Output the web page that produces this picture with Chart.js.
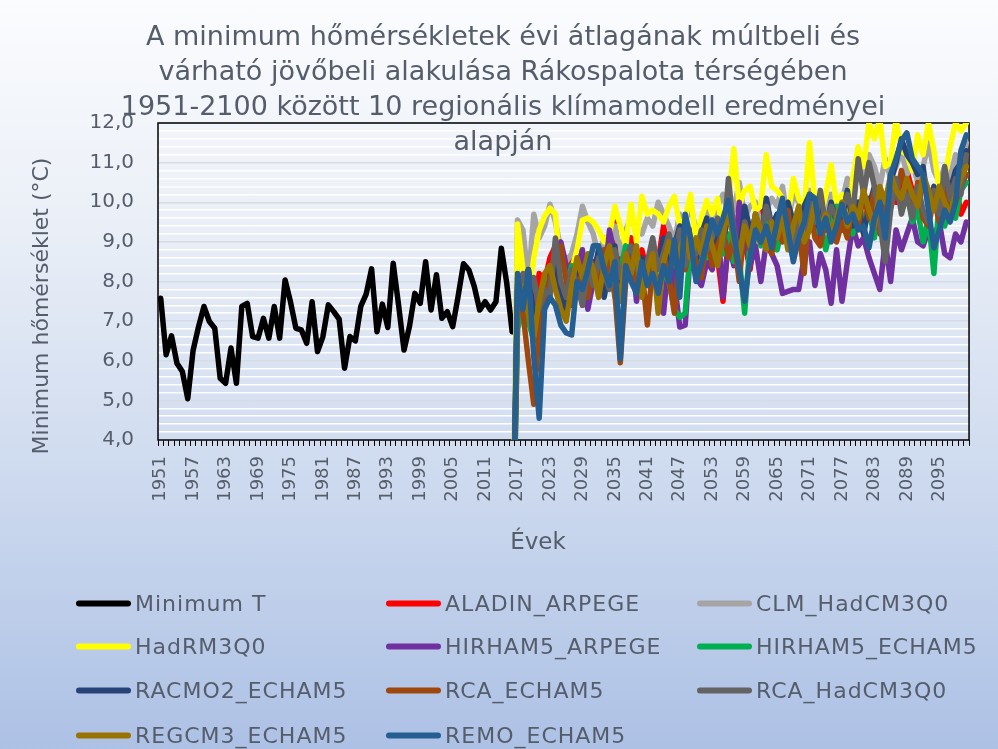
<!DOCTYPE html>
<html lang="hu">
<head>
<meta charset="utf-8">
<title>Minimum hőmérsékletek – Rákospalota</title>
<script src="https://cdn.jsdelivr.net/npm/chart.js@4.4.1/dist/chart.umd.min.js"></script>
<style>
  html, body { margin: 0; padding: 0; }
  body { width: 998px; height: 749px; overflow: hidden; }
  #wrap {
    position: relative; width: 998px; height: 749px;
    background: linear-gradient(180deg, #fbfcfe 0%, #eaeff7 30%, #cfdbef 62%, #adc1e5 100%);
  }
  #chart { position: absolute; left: 0; top: 0; }
  #legend {
    position: absolute; left: 0; top: 0; width: 998px; height: 749px; pointer-events: none;
    font-family: "DejaVu Sans", sans-serif; font-size: 22px; letter-spacing: 1px; color: #555d6b;
  }
  .item { position: absolute; display: flex; align-items: center; white-space: nowrap; transform: translateY(-50%); }
  .swatch { width: 55px; height: 6px; border-radius: 3px; margin-right: 4px; }
</style>
</head>
<body>
<div id="wrap">
  <canvas id="chart" width="998" height="749"></canvas>
  <div id="legend"></div>
</div>
<script>
// years on the category axis
const firstYear = 1951;
const lastYear = 2100;
const years = [];
for (let y = firstYear; y <= lastYear; y++) years.push(String(y));

// observed yearly mean of minimum temperature, 1951-2016
const minimumT = [
  7.58, 6.15, 6.63, 5.94, 5.73, 5.04, 6.27, 6.86, 7.37, 6.99,
  6.82, 5.56, 5.43, 6.32, 5.43, 7.37, 7.45, 6.61, 6.57, 7.07,
  6.57, 7.37, 6.57, 8.04, 7.49, 6.82, 6.78, 6.44, 7.49, 6.23,
  6.61, 7.41, 7.24, 7.05, 5.81, 6.61, 6.50, 7.37, 7.68, 8.32,
  6.73, 7.43, 6.84, 8.46, 7.40, 6.27, 6.86, 7.70, 7.45, 8.50,
  7.28, 8.17, 7.07, 7.24, 6.86, 7.62, 8.45, 8.29, 7.87, 7.28,
  7.49, 7.28, 7.49, 8.84, 7.96, 6.73
];

// model runs, 2016-2100 (the 2016 cell is empty in the sheet and plots as 0)
const aladinArpege = [0,
  7.0, 8.0, 7.6, 7.3, 8.2, 8.0, 8.6, 8.9, 8.3, 8.6, 8.4, 9.0,
  7.4, 8.3, 8.5, 7.8, 8.9, 8.4, 9.5, 8.2, 8.7, 9.1, 8.3, 8.8,
  8.2, 8.9, 8.5, 9.4, 8.7, 8.3, 9.0, 8.6, 9.3, 8.8, 9.4, 9.0,
  9.2, 8.6, 7.5, 9.1, 8.5, 9.7, 9.0, 8.3, 9.3, 9.8, 9.1, 9.5,
  9.0, 9.6, 9.2, 8.8, 9.5, 9.9, 9.3, 9.7, 9.1, 9.8, 9.4, 9.6,
  9.3, 10.0, 9.5, 9.9, 9.2, 10.1, 9.6, 10.2, 9.7, 10.5, 10.0, 10.4,
  10.8, 10.3, 9.8, 10.6, 10.2, 9.9, 10.4, 10.7, 10.1, 10.5, 9.7, 10.0
];
const clmHadCM3Q0 = [0,
  9.55, 9.3, 8.0, 9.7, 9.1, 9.4, 9.95, 9.5, 8.8, 8.5, 8.7, 9.2,
  9.9, 9.5, 9.2, 8.6, 9.1, 8.8, 9.4, 8.7, 9.3, 9.6, 9.3, 9.2,
  9.6, 9.4, 10.0, 9.7, 9.4, 9.0, 9.7, 9.5, 9.9, 9.3, 9.5, 9.8,
  9.5, 9.9, 10.2, 9.7, 9.8, 10.5, 9.6, 9.9, 10.0, 9.4, 9.8, 10.1,
  9.9, 10.4, 9.5, 10.2, 10.0, 9.7, 10.3, 9.8, 10.1, 9.6, 10.2, 9.7,
  10.0, 10.6, 10.3, 11.0, 10.7, 11.2, 10.9, 10.4, 11.1, 10.6, 10.9, 11.3,
  10.7, 11.0, 10.5, 10.9, 11.5, 10.8, 10.5, 10.9, 10.6, 11.2, 10.9, 11.5
];
const hadRM3Q0 = [0,
  9.45, 8.3, 7.5, 8.6, 9.3, 9.65, 9.85, 9.7, 8.2, 7.7, 8.3, 8.8,
  9.55, 9.6, 9.5, 9.3, 9.0, 9.2, 9.9, 9.4, 8.9, 9.95, 9.0, 10.15,
  9.7, 9.8, 9.7, 9.5, 9.9, 10.15, 9.4, 9.6, 10.2, 9.0, 9.6, 10.05,
  9.7, 10.1, 9.2, 10.0, 11.35, 9.9, 10.3, 10.4, 9.8, 9.9, 11.2, 10.4,
  10.3, 10.1, 9.6, 10.6, 10.1, 9.8, 11.5, 10.0, 9.6, 10.2, 10.95, 9.9,
  10.2, 9.1, 10.6, 11.4, 10.9, 12.0, 11.6, 12.1, 10.9, 11.0, 12.1, 11.3,
  11.2, 10.8, 11.7, 11.2, 12.0, 11.3, 10.3, 10.6, 11.4, 12.0, 11.8, 12.0
];
const hirham5Arpege = [0,
  7.5, 8.0, 8.3, 7.1, 6.6, 7.8, 8.4, 8.1, 9.0, 8.4, 7.9, 8.2,
  8.8, 7.3, 8.0, 8.6, 7.9, 9.3, 8.6, 7.8, 8.3, 8.9, 7.5, 8.4,
  8.0, 8.5, 7.9, 7.2, 8.6, 8.0, 6.85, 6.9, 8.8, 8.1, 7.9, 8.5,
  8.3, 9.4, 7.6, 9.0, 8.4, 10.0, 9.2, 8.4, 8.9, 8.0, 9.0, 8.7,
  8.4, 7.7, 7.75, 7.8, 7.8, 8.6, 9.0, 7.9, 8.7, 8.3, 7.45, 8.8,
  7.5, 8.5, 9.4, 8.9, 9.1, 8.6, 8.2, 7.8, 9.0, 8.0, 9.3, 8.8,
  9.2, 9.6, 9.0, 8.9, 9.3, 9.1, 9.5, 8.7, 8.6, 9.2, 9.0, 9.5
];
const hirham5Echam5 = [0,
  6.8, 7.4, 7.0, 6.5, 7.6, 8.1, 7.7, 8.3, 7.5, 7.9, 8.4, 7.6,
  8.2, 8.6, 7.9, 8.4, 8.1, 8.8, 7.6, 8.3, 8.9, 8.0, 8.5, 7.7,
  8.4, 7.9, 8.6, 8.2, 8.0, 7.3, 7.1, 7.2, 8.9, 8.4, 9.2, 8.6,
  8.9, 9.3, 8.7, 9.2, 8.5, 8.6, 7.2, 9.0, 9.4, 8.9, 9.6, 9.1,
  8.8, 9.4, 9.0, 8.6, 9.3, 8.9, 9.7, 9.2, 9.5, 8.8, 9.4, 9.9,
  9.3, 9.7, 9.2, 10.0, 9.5, 9.8, 9.1, 10.2, 9.6, 9.9, 10.4, 10.0,
  10.3, 9.5, 9.8, 9.0, 9.6, 8.2, 10.1, 9.4, 10.0, 9.6, 10.3, 10.5
];
const racmo2Echam5 = [0,
  8.1, 7.4, 8.3, 7.0, 6.9, 7.6, 8.0, 8.4, 7.7, 7.2, 8.1, 8.5,
  7.9, 8.5, 8.2, 8.8, 7.6, 8.3, 8.9, 7.5, 8.4, 8.9, 8.2, 8.6,
  8.0, 8.8, 8.4, 9.1, 8.3, 8.9, 9.4, 8.6, 9.0, 8.5, 9.2, 9.6,
  8.8, 9.3, 9.0, 9.7, 9.2, 8.7, 9.9, 9.3, 9.6, 9.0, 10.1, 9.4,
  9.7, 9.2, 10.0, 9.5, 9.1, 9.9, 10.2, 9.4, 9.8, 9.3, 10.0, 9.5,
  9.6, 10.3, 9.4, 10.0, 9.2, 9.9, 10.4, 10.0, 9.6, 10.5, 11.0, 11.6,
  11.2, 11.0, 10.7, 10.9, 9.9, 10.4, 9.8, 10.5, 10.3, 10.8, 11.0, 11.3
];
const rcaEcham5 = [0,
  7.8, 7.2, 6.0, 4.9, 6.8, 7.4, 8.1, 8.7, 8.9, 8.0, 7.4, 7.9,
  8.2, 7.6, 8.4, 7.9, 8.8, 8.2, 7.7, 5.95, 8.0, 8.6, 7.8, 8.3,
  6.9, 8.4, 7.6, 8.7, 8.1, 7.2, 8.8, 8.3, 9.0, 8.5, 8.1, 9.2,
  8.4, 8.9, 9.3, 8.6, 9.1, 8.0, 9.5, 8.8, 9.7, 9.0, 9.2, 8.7,
  9.4, 9.0, 9.8, 8.6, 9.3, 8.2, 9.9, 9.1, 8.9, 9.6, 9.2, 9.0,
  9.5, 9.1, 10.0, 9.4, 10.2, 9.6, 10.3, 9.2, 9.8, 10.4, 10.1, 10.8,
  10.2, 9.8, 10.5, 9.6, 9.4, 10.1, 9.5, 10.3, 9.6, 10.0, 10.4, 10.7
];
const rcaHadCM3Q0 = [0,
  7.9, 8.2, 7.7, 8.1, 7.3, 7.8, 7.6, 9.1, 8.0, 7.6, 8.3, 7.9,
  7.4, 8.4, 7.9, 8.6, 8.2, 7.8, 8.8, 8.1, 8.6, 8.9, 8.4, 7.9,
  8.5, 9.1, 8.3, 8.7, 9.2, 8.6, 9.3, 8.4, 9.0, 8.7, 9.3, 8.8,
  9.1, 9.6, 8.9, 10.6, 9.3, 8.6, 9.5, 9.0, 9.7, 9.1, 9.9, 9.4,
  9.2, 9.8, 9.4, 9.0, 9.7, 9.3, 10.0, 9.5, 10.3, 9.4, 9.9, 9.6,
  9.8, 10.2, 9.7, 11.1, 10.2, 11.0, 10.4, 9.5, 8.5, 9.8, 10.6, 9.7,
  10.2, 9.6, 10.4, 9.8, 9.5, 10.3, 9.7, 10.9, 10.1, 10.6, 10.2, 11.2
];
const regcm3Echam5 = [0,
  7.7, 7.9, 7.2, 6.6, 7.5, 8.2, 8.4, 7.8, 7.3, 7.0, 7.9, 8.6,
  8.1, 8.7, 8.3, 7.6, 8.4, 8.9, 8.1, 7.5, 8.7, 8.2, 8.9, 7.6,
  8.3, 8.7, 7.2, 8.5, 9.0, 8.4, 8.8, 9.2, 8.6, 9.1, 8.7, 9.4,
  8.9, 8.4, 9.2, 9.8, 9.0, 8.6, 9.4, 8.9, 9.7, 9.3, 8.8, 9.5,
  9.1, 9.6, 8.8, 9.4, 9.9, 9.0, 9.3, 10.0, 9.4, 9.7, 9.2, 9.6,
  10.0, 9.4, 9.9, 9.6, 10.3, 9.8, 9.4, 10.4, 10.0, 10.7, 10.3, 10.1,
  10.6, 10.2, 9.9, 10.7, 10.3, 9.8, 10.4, 10.0, 9.7, 10.2, 10.6, 10.9
];
const remoEcham5 = [0,
  8.2, 7.3, 8.3, 6.1, 4.55, 7.3, 7.6, 7.4, 6.9, 6.7, 6.65, 8.0,
  7.8, 8.3, 8.9, 8.9, 8.3, 7.9, 8.5, 6.05, 8.4, 8.0, 7.7, 8.5,
  7.9, 8.2, 7.7, 8.4, 8.0, 9.05, 7.6, 9.7, 9.1, 8.0, 8.45, 9.0,
  9.55, 9.2, 9.6, 10.05, 9.2, 8.3, 7.5, 8.6, 9.3, 9.0, 9.4, 8.85,
  9.5, 10.1, 9.3, 8.5, 9.1, 9.5, 10.2, 10.1, 9.2, 9.6, 9.0, 9.4,
  9.95, 9.5, 9.7, 9.3, 9.4, 8.85, 9.6, 10.0, 9.1, 10.7, 11.1, 11.55,
  11.75, 11.1, 10.9, 10.7, 9.8, 8.85, 9.3, 9.8, 9.5, 10.0, 11.3, 11.7
];

const observedStart = years.indexOf('1951');
const modelStart = years.indexOf('2016');

const series = [
  { label: 'Minimum T', data: minimumT, start: observedStart, color: '#000000' },
  { label: 'ALADIN_ARPEGE', data: aladinArpege, start: modelStart, color: '#ff0000' },
  { label: 'CLM_HadCM3Q0', data: clmHadCM3Q0, start: modelStart, color: '#a5a5a5' },
  { label: 'HadRM3Q0', data: hadRM3Q0, start: modelStart, color: '#ffff00' },
  { label: 'HIRHAM5_ARPEGE', data: hirham5Arpege, start: modelStart, color: '#7030a0' },
  { label: 'HIRHAM5_ECHAM5', data: hirham5Echam5, start: modelStart, color: '#00b050' },
  { label: 'RACMO2_ECHAM5', data: racmo2Echam5, start: modelStart, color: '#264478' },
  { label: 'RCA_ECHAM5', data: rcaEcham5, start: modelStart, color: '#9e480e' },
  { label: 'RCA_HadCM3Q0', data: rcaHadCM3Q0, start: modelStart, color: '#636363' },
  { label: 'REGCM3_ECHAM5', data: regcm3Echam5, start: modelStart, color: '#997300' },
  { label: 'REMO_ECHAM5', data: remoEcham5, start: modelStart, color: '#255e91' }
];

const titleLines = [
  'A minimum hőmérsékletek évi átlagának múltbeli és',
  'várható jövőbeli alakulása Rákospalota térségében',
  '1951-2100 között 10 regionális klímamodell eredményei',
  'alapján'
];
const yTitle = 'Minimum hőmérséklet (°C)';
const xTitle = 'Évek';

const textColor = '#555d6b';
const fontFamily = '"DejaVu Sans", sans-serif';

// spread a series over the full year axis
const place = (vals, start) =>
  years.map((_, i) => (i >= start && i < start + vals.length ? vals[i - start] : null));

const isWhole = (v) => Math.abs(v - Math.round(v)) < 1e-6;

// frame around the plot area, drawn under the lines
const plotFrame = {
  id: 'plotFrame',
  beforeDatasetsDraw(chart) {
    const { ctx, chartArea: a } = chart;
    ctx.save();
    ctx.strokeStyle = '#000';
    ctx.lineWidth = 1.5;
    ctx.strokeRect(a.left, a.top, a.right - a.left, a.bottom - a.top);
    ctx.restore();
  }
};

// chart title and axis titles
const overlayText = {
  id: 'overlayText',
  afterDraw(chart) {
    const { ctx } = chart;
    ctx.save();
    ctx.fillStyle = textColor;
    ctx.textAlign = 'center';
    ctx.textBaseline = 'middle';
    ctx.font = `27px ${fontFamily}`;
    titleLines.forEach((line, i) => ctx.fillText(line, 503, 38 + i * 35));
    ctx.font = `23px ${fontFamily}`;
    ctx.fillText(xTitle, 538, 543);
    ctx.font = `22px ${fontFamily}`;
    ctx.translate(42, 306);
    ctx.rotate(-Math.PI / 2);
    ctx.fillText(yTitle, 0, 0);
    ctx.restore();
  }
};

new Chart(document.getElementById('chart'), {
  type: 'line',
  data: {
    labels: years,
    datasets: series.map((s, i) => ({
      label: s.label,
      data: place(s.data, s.start),
      borderColor: s.color,
      backgroundColor: s.color,
      borderWidth: 5.5,
      pointRadius: 0,
      tension: 0,
      borderJoinStyle: 'round',
      borderCapStyle: 'round',
      spanGaps: false,
      order: series.length - i
    }))
  },
  options: {
    responsive: false,
    animation: false,
    events: [],
    layout: { padding: { left: 0, top: 123, right: 19, bottom: 0 } },
    scales: {
      x: {
        type: 'category',
        offset: true,
        border: { display: false },
        grid: {
          offset: true,
          drawOnChartArea: false,
          drawTicks: true,
          tickLength: 6,
          color: '#000',
          lineWidth: 1
        },
        ticks: {
          autoSkip: false,
          maxRotation: 90,
          minRotation: 90,
          padding: 10,
          color: textColor,
          font: { family: fontFamily, size: 18 },
          callback(value, index) {
            return index % 6 === 0 ? this.getLabelForValue(value) : '';
          }
        },
        afterFit(scale) { scale.height = 309; }
      },
      y: {
        min: 4,
        max: 12,
        border: { display: false },
        grid: {
          drawTicks: false,
          color: (c) => (isWhole(c.tick.value) ? '#d6dbe4' : '#ffffff'),
          lineWidth: 1.5
        },
        ticks: {
          stepSize: 0.2,
          maxTicksLimit: 100,
          autoSkip: false,
          padding: 24,
          color: textColor,
          font: { family: fontFamily, size: 20 },
          callback: (v) => (isWhole(v) ? v.toFixed(1).replace('.', ',') : '')
        },
        afterFit(scale) { scale.width = 158; }
      }
    },
    plugins: {
      legend: { display: false },
      tooltip: { enabled: false }
    }
  },
  plugins: [plotFrame, overlayText]
});

// legend: three columns, filled row by row
const legend = document.getElementById('legend');
const colLeft = [76, 386, 697];
const rowMid = [603, 646, 690, 735];
series.forEach((s, i) => {
  const item = document.createElement('div');
  item.className = 'item';
  item.style.left = colLeft[i % 3] + 'px';
  item.style.top = rowMid[Math.floor(i / 3)] + 'px';
  const sw = document.createElement('span');
  sw.className = 'swatch';
  sw.style.background = s.color;
  const tx = document.createElement('span');
  tx.textContent = s.label;
  item.appendChild(sw);
  item.appendChild(tx);
  legend.appendChild(item);
});
</script>
</body>
</html>
